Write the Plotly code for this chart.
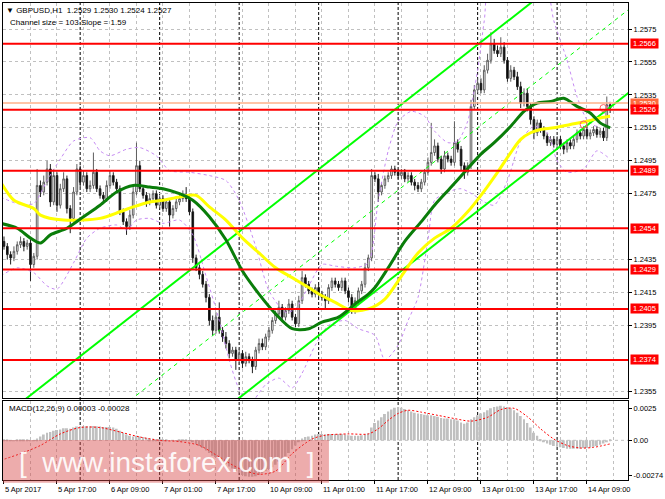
import plotly.graph_objects as go

# ---------------- data ----------------
first_open = 1.2446
closes = [
    1.2443, 1.2438, 1.2436, 1.2440, 1.2444, 1.2446, 1.2443, 1.2445, 1.2432, 1.2437,
    1.2480, 1.2476, 1.2482, 1.2490, 1.2470, 1.2486, 1.2468, 1.2478, 1.2484, 1.2466,
    1.2460, 1.2476, 1.2490, 1.2482, 1.2486, 1.2478, 1.2480, 1.2488, 1.2478, 1.2474,
    1.2472, 1.2480, 1.2486, 1.2482, 1.2478, 1.2464, 1.2458, 1.2455, 1.2462, 1.2476,
    1.2492, 1.2478, 1.2474, 1.2470, 1.2472, 1.2475, 1.2468, 1.2472, 1.2466, 1.2470,
    1.2462, 1.2466, 1.2470, 1.2472, 1.2474, 1.2472, 1.2464, 1.2436, 1.2430, 1.2426,
    1.2420, 1.2412, 1.2398, 1.2392, 1.2400, 1.2392, 1.2388, 1.2384, 1.2378, 1.2380,
    1.2374, 1.2378, 1.2372, 1.2376, 1.2374, 1.2370, 1.2380, 1.2384, 1.2382, 1.2388,
    1.2392, 1.2398, 1.2402, 1.2406, 1.2400, 1.2404, 1.2408, 1.2400, 1.2396, 1.2410,
    1.2424, 1.2420, 1.2416, 1.2414, 1.2418, 1.2414, 1.2412, 1.2410, 1.2418, 1.2422,
    1.2420, 1.2418, 1.2422, 1.2416, 1.2412, 1.2404, 1.2410, 1.2416, 1.2420, 1.2430,
    1.2436, 1.2486, 1.2484, 1.2476, 1.2480, 1.2484, 1.2486, 1.2490, 1.2488, 1.2486,
    1.2488, 1.2484, 1.2486, 1.2482, 1.2480, 1.2478, 1.2482, 1.2488, 1.2494, 1.2500,
    1.2504, 1.2496, 1.2490, 1.2498, 1.2496, 1.2494, 1.2506, 1.2502, 1.2492, 1.2488,
    1.2492, 1.2528, 1.2538, 1.2542, 1.2538, 1.2550, 1.2556, 1.2566, 1.2562, 1.2560,
    1.2564, 1.2556, 1.2545, 1.2550, 1.2546, 1.2540, 1.2530, 1.2536, 1.2528, 1.2520,
    1.2512, 1.2518, 1.2514, 1.2510, 1.2506, 1.2508, 1.2505, 1.2508, 1.2504, 1.2502,
    1.2506, 1.2504, 1.2508, 1.2512, 1.2510, 1.2514, 1.2510, 1.2512, 1.2514, 1.2511,
    1.2513, 1.2509, 1.2529, 1.2527,
]
up_wick_pips = [
    3, 2, 2, 3, 2, 3, 2, 2, 2, 2,
    10, 3, 4, 5, 3, 4, 2, 3, 4, 2,
    2, 3, 3, 2, 3, 2, 3, 12, 2, 2,
    2, 3, 3, 2, 2, 2, 2, 2, 3, 3,
    14, 3, 2, 2, 3, 2, 2, 2, 2, 2,
    2, 2, 3, 3, 3, 5, 2, 2, 2, 2,
    2, 2, 2, 3, 3, 9, 2, 3, 2, 2,
    2, 3, 2, 3, 2, 2, 2, 3, 3, 2,
    2, 2, 2, 4, 2, 2, 3, 2, 2, 3,
    4, 2, 2, 2, 2, 2, 2, 2, 2, 2,
    2, 2, 2, 2, 2, 2, 2, 2, 2, 3,
    2, 4, 2, 3, 2, 2, 2, 2, 2, 2,
    2, 2, 2, 2, 2, 2, 2, 2, 3, 18,
    4, 2, 2, 3, 2, 2, 13, 2, 2, 2,
    2, 4, 3, 3, 3, 3, 4, 7, 3, 3,
    6, 3, 2, 3, 2, 3, 3, 3, 3, 2,
    2, 2, 2, 2, 2, 2, 2, 2, 2, 2,
    2, 2, 2, 2, 2, 2, 2, 2, 2, 2,
    2, 2, 5, 1,
]
dn_wick_pips = [
    2, 3, 4, 2, 2, 2, 3, 2, 10, 2,
    2, 3, 2, 2, 3, 2, 4, 2, 2, 3,
    9, 2, 2, 3, 2, 2, 2, 2, 2, 2,
    3, 2, 2, 2, 2, 2, 2, 5, 2, 2,
    2, 2, 2, 3, 2, 2, 2, 2, 2, 2,
    7, 2, 2, 2, 2, 2, 2, 3, 2, 3,
    2, 3, 3, 3, 2, 2, 3, 3, 3, 2,
    6, 3, 3, 2, 2, 4, 2, 2, 2, 2,
    2, 2, 2, 2, 3, 2, 2, 2, 2, 2,
    2, 2, 2, 2, 2, 2, 2, 5, 2, 2,
    2, 2, 2, 2, 3, 2, 2, 2, 2, 2,
    2, 2, 2, 6, 2, 2, 2, 2, 2, 2,
    2, 2, 2, 2, 3, 2, 2, 2, 2, 2,
    2, 2, 3, 2, 2, 2, 2, 2, 3, 4,
    2, 2, 2, 2, 2, 2, 2, 2, 2, 2,
    2, 2, 2, 2, 2, 2, 3, 2, 3, 3,
    4, 2, 2, 2, 2, 2, 2, 2, 2, 3,
    2, 2, 2, 2, 2, 2, 2, 2, 2, 2,
    2, 2, 2, 3,
]

x_tick_bars = [0, 16, 32, 48, 64, 80, 96, 112, 128, 144, 160, 176]
x_tick_text = ["5 Apr 2017", "5 Apr 17:00", "6 Apr 09:00", "7 Apr 01:00", "7 Apr 17:00",
               "10 Apr 09:00", "11 Apr 01:00", "11 Apr 17:00", "12 Apr 09:00",
               "13 Apr 01:00", "13 Apr 17:00", "14 Apr 09:00"]
day_sep_bars = [23, 47, 71, 95, 119, 143, 167]

# price ticks that stay visible (1.2455 and 1.2375 are hidden under level labels)
price_ticks = [1.2355, 1.2395, 1.2415, 1.2435, 1.2475, 1.2495,
               1.2515, 1.2535, 1.2555, 1.2575]
levels = [1.2566, 1.2526, 1.2489, 1.2454, 1.2429, 1.2405, 1.2374]
ask_level = 1.2530

yellow_bars = [-1, 3, 9, 11, 18, 29, 35, 39, 44, 48, 53, 58, 62, 67, 72, 77, 82, 87, 92, 96,
               100, 105, 110, 115, 120, 125, 130, 135, 140, 144, 149, 153, 156, 159, 162,
               166, 171, 176, 180, 183]
yellow_vals = [1.2482, 1.2471, 1.2466, 1.2462, 1.2459, 1.2460, 1.2464, 1.2467, 1.2470, 1.2471,
               1.2473, 1.2474, 1.2467, 1.2459, 1.2448, 1.2439, 1.2430, 1.2424, 1.2418, 1.2413,
               1.2409, 1.2404, 1.2405, 1.2411, 1.2425, 1.2439, 1.2448, 1.2454, 1.2464, 1.2474,
               1.2488, 1.2500, 1.2508, 1.2512, 1.2514, 1.2515, 1.2517, 1.2519, 1.2521, 1.2522]

green_bars = [-1, 4, 8, 11, 14, 19, 24, 29, 34, 39, 44, 48, 53, 57, 62, 67, 72, 77, 82, 87,
              92, 96, 101, 106, 110, 112, 116, 121, 126, 130, 135, 139, 144, 148, 153, 157,
              161, 165, 169, 173, 177, 180, 183]
green_vals = [1.2457, 1.2454, 1.2448, 1.2445, 1.2450, 1.2454, 1.2461, 1.2468, 1.2476, 1.2480,
              1.2479, 1.2478, 1.2475, 1.2471, 1.2461, 1.2447, 1.2428, 1.2414, 1.2402, 1.2393,
              1.2393, 1.2397, 1.2400, 1.2408, 1.2414, 1.2418, 1.2430, 1.2446, 1.2458, 1.2468,
              1.2479, 1.2488, 1.2499, 1.2506, 1.2516, 1.2525, 1.2530, 1.2531, 1.2533, 1.2528,
              1.2524, 1.2518, 1.2515]

bb_up_bars = [-1, 4, 9, 13, 17, 21, 26, 29, 32, 37, 41, 46, 50, 56, 62, 67, 71, 76, 80, 85,
              88, 92, 96, 100, 106, 110, 113, 116, 119, 123, 127, 130, 134, 137, 140, 143,
              145, 147, 163, 166, 170, 173, 176, 179, 183]
bb_up_vals = [1.2473, 1.2469, 1.2469, 1.2483, 1.2496, 1.2507, 1.2509, 1.2501, 1.2498, 1.2502,
              1.2503, 1.2498, 1.2489, 1.2488, 1.2486, 1.2483, 1.2471, 1.2443, 1.2416, 1.2403,
              1.2405, 1.2419, 1.2432, 1.2431, 1.2430, 1.2433, 1.2471, 1.2501, 1.2519, 1.2525,
              1.2522, 1.2513, 1.2506, 1.2507, 1.2519, 1.2550, 1.2580, 1.2604, 1.2604, 1.2580,
              1.2556, 1.2534, 1.2520, 1.2516, 1.2531]
bb_lo_bars = [-1, 4, 9, 13, 16, 21, 25, 29, 34, 37, 40, 44, 48, 53, 57, 61, 65, 68, 71, 74,
              79, 83, 87, 90, 94, 98, 103, 107, 112, 115, 119, 122, 125, 128, 130, 134, 138,
              142, 145, 148, 152, 156, 160, 164, 167, 170, 175, 179, 183]
bb_lo_vals = [1.2425, 1.2430, 1.2427, 1.2419, 1.2417, 1.2433, 1.2448, 1.2454, 1.2456, 1.2453,
              1.2459, 1.2460, 1.2457, 1.2459, 1.2450, 1.2425, 1.2398, 1.2374, 1.2356, 1.2347,
              1.2359, 1.2363, 1.2357, 1.2366, 1.2383, 1.2395, 1.2398, 1.2393, 1.2389, 1.2374,
              1.2383, 1.2398, 1.2412, 1.2447, 1.2471, 1.2476, 1.2478, 1.2474, 1.2470, 1.2468,
              1.2483, 1.2507, 1.2516, 1.2512, 1.2495, 1.2488, 1.2490, 1.2501, 1.2496]

channel_bars = [0, 189]
channel_lower = [1.2239, 1.2537]
channel_width = 0.0101

cross_bars = [175, 181]
cross_prices = [1.2517, 1.2527]

macd_hist_e4 = [
    0.3, 0.2, 0.1, 0.1, 0.2, 0.3, 0.3, 0.3, 0.1, 0.1,
    1.5, 3.0, 4.5, 6.0, 6.5, 7.5, 8.0, 8.5, 9.5, 9.5,
    9.0, 10.0, 10.8, 11.0, 11.0, 11.0, 11.0, 11.2, 11.0, 10.8,
    10.5, 10.5, 10.5, 10.0, 9.0, 7.5, 6.0, 4.5, 3.5, 3.0,
    3.5, 3.0, 2.5, 2.0, 1.5, 1.2, 0.8, 0.6, 0.4, 0.3,
    0.0, 0.0, 0.1, 0.2, 0.2, 0.2, -0.2, -1.5, -3.0, -4.5,
    -6.0, -8.0, -10.0, -12.0, -13.0, -14.5, -16.5, -18.5, -20.5, -22.0,
    -24.0, -25.5, -27.0, -28.0, -28.5, -28.5, -28.0, -27.0, -25.5, -24.0,
    -22.5, -21.0, -19.0, -16.5, -14.5, -12.5, -10.0, -7.0, -4.0, -1.0,
    1.5, 2.5, 3.0, 3.5, 4.5, 5.0, 5.0, 4.5, 5.0, 5.0,
    5.0, 5.0, 5.0, 4.5, 4.0, 3.5, 3.5, 3.5, 4.0, 4.5,
    5.5, 10.0, 13.5, 15.5, 18.0, 20.5, 22.5, 24.0, 25.5, 26.0,
    25.5, 24.5, 23.5, 22.5, 21.5, 21.0, 20.5, 20.0, 19.5, 19.5,
    19.0, 18.5, 17.5, 17.0, 17.0, 16.5, 16.5, 15.5, 14.0, 13.0,
    14.0, 16.5, 18.0, 19.5, 21.0, 22.0, 23.5, 25.0, 26.0, 26.5,
    27.0, 26.5, 26.0, 25.0, 23.5, 21.5, 19.0, 16.5, 13.5, 10.0,
    6.0, 3.5, 1.0, -1.0, -2.5, -3.5, -4.5, -5.0, -5.5, -6.0,
    -6.5, -6.5, -6.5, -6.5, -6.5, -6.0, -6.0, -5.5, -5.0, -4.5,
    -3.5, -2.5, -1.0, 0.3,
]
signal_bars = [-1, 5, 11, 17, 23, 29, 35, 41, 47, 53, 59, 65, 71, 77, 82, 87, 93, 97, 104,
               110, 113, 116, 119, 122, 126, 131, 136, 141, 146, 150, 154, 158, 162, 166,
               170, 174, 178, 183]
signal_e4 = [-15.6, -10.4, -4.0, 5.0, 10.0, 10.0, 6.5, 2.6, 0.0, -1.0, -4.0, -13.0, -22.0,
             -26.5, -24.0, -10.4, 1.0, 4.0, 5.0, 5.0, 9.0, 15.6, 21.0, 23.5, 22.0, 19.5,
             17.0, 15.0, 18.0, 24.0, 25.0, 18.5, 9.0, 1.0, -4.0, -6.0, -5.5, -2.8]

# ---------------- derived ----------------
bars = list(range(len(closes)))
opens = [first_open] + closes[:-1]
highs = [round(max(o, c) + u * 1e-4, 5) for o, c, u in zip(opens, closes, up_wick_pips)]
lows = [round(min(o, c) - d * 1e-4, 5) for o, c, d in zip(opens, closes, dn_wick_pips)]
macd_hist = [v * 1e-4 for v in macd_hist_e4]
signal = [v * 1e-4 for v in signal_e4]
channel_upper = [v + channel_width for v in channel_lower]
channel_mid = [v + channel_width / 2 for v in channel_lower]

FONT = "Liberation Sans"
GRID = "#C0C0C0"
X_RANGE = [-0.3, 188.4]
Y_RANGE = [1.23508, 1.25908]
M_RANGE = [-0.0031, 0.00306]

fig = go.Figure()

fig.add_trace(go.Candlestick(
    x=bars, open=opens, high=highs, low=lows, close=closes,
    increasing=dict(line=dict(color="#5E5E5E", width=1), fillcolor="#FFFFFF"),
    decreasing=dict(line=dict(color="#1E1E1E", width=1), fillcolor="#000000"),
    whiskerwidth=0, hoverinfo="skip", showlegend=False, xaxis="x", yaxis="y"))

purple = "#C58AF2"
fig.add_trace(go.Scatter(x=bb_up_bars, y=bb_up_vals, mode="lines",
                         line=dict(color=purple, width=1, dash="3px,3px", shape="spline", smoothing=0.7),
                         hoverinfo="skip", showlegend=False, xaxis="x", yaxis="y"))
fig.add_trace(go.Scatter(x=bb_lo_bars, y=bb_lo_vals, mode="lines",
                         line=dict(color=purple, width=1, dash="3px,3px", shape="spline", smoothing=0.7),
                         hoverinfo="skip", showlegend=False, xaxis="x", yaxis="y"))

for vals, w, d in [(channel_upper, 2, "solid"), (channel_lower, 2, "solid"), (channel_mid, 1, "4px,4px")]:
    fig.add_trace(go.Scatter(x=channel_bars, y=vals, mode="lines",
                             line=dict(color="#00FF00", width=w, dash=d),
                             hoverinfo="skip", showlegend=False, xaxis="x", yaxis="y"))

fig.add_trace(go.Scatter(x=yellow_bars, y=yellow_vals, mode="lines",
                         line=dict(color="#FFFF00", width=3, shape="spline", smoothing=0.8),
                         hoverinfo="skip", showlegend=False, xaxis="x", yaxis="y"))
fig.add_trace(go.Scatter(x=green_bars, y=green_vals, mode="lines",
                         line=dict(color="#0A7D0A", width=3, shape="spline", smoothing=0.8),
                         hoverinfo="skip", showlegend=False, xaxis="x", yaxis="y"))
fig.add_trace(go.Scatter(x=cross_bars, y=cross_prices, mode="markers",
                         marker=dict(symbol="circle-open", size=7, color="#FF6060", line=dict(width=1)),
                         hoverinfo="skip", showlegend=False, xaxis="x", yaxis="y"))

# MACD pane
fig.add_trace(go.Bar(x=bars, y=macd_hist, width=0.6, marker=dict(color="#C0C0C0", line=dict(width=0)),
                     hoverinfo="skip", showlegend=False, xaxis="x2", yaxis="y2"))
fig.add_trace(go.Scatter(x=signal_bars, y=signal, mode="lines",
                         line=dict(color="#FF0000", width=1, dash="2px,2px", shape="spline", smoothing=0.8),
                         hoverinfo="skip", showlegend=False, xaxis="x2", yaxis="y2"))

shapes = []
for b in day_sep_bars:
    shapes.append(dict(type="line", xref="x", yref="paper", x0=b, x1=b, y0=0, y1=1,
                       line=dict(color="#000000", width=1, dash="3px,2px"), layer="below"))
shapes.append(dict(type="line", xref="paper", yref="y", x0=0, x1=1, y0=ask_level, y1=ask_level,
                   line=dict(color="#FFB08A", width=1.5), layer="above"))
for lv in levels:
    shapes.append(dict(type="line", xref="paper", yref="y", x0=0, x1=1, y0=lv, y1=lv,
                       line=dict(color="#FF0000", width=2), layer="above"))
shapes.append(dict(type="line", xref="paper", yref="y2", x0=0, x1=1, y0=0, y1=0,
                   line=dict(color=GRID, width=1, dash="3px,3px"), layer="below"))
# watermark
shapes.append(dict(type="rect", xref="paper", yref="paper", x0=0, x1=0.5215, y0=-0.006, y1=0.0837,
                   fillcolor="rgba(215,70,70,0.45)", line=dict(width=0), layer="above"))

annotations = []
annotations.append(dict(xref="paper", yref="paper", x=0, y=1, xanchor="left", yanchor="top",
                        xshift=1, yshift=-1, showarrow=False, align="left",
                        text="▼ GBPUSD,H1  1.2529 1.2530 1.2524 1.2527",
                        font=dict(family=FONT, size=8, color="#000000")))
annotations.append(dict(xref="paper", yref="paper", x=0, y=1, xanchor="left", yanchor="top",
                        xshift=5, yshift=-13, showarrow=False, align="left",
                        text="Channel size = 103 Slope = 1.59",
                        font=dict(family=FONT, size=8, color="#000000")))
annotations.append(dict(xref="paper", yref="paper", x=0, y=0.1653, xanchor="left", yanchor="top",
                        xshift=4, yshift=-1, showarrow=False, align="left",
                        text="MACD(12,26,9) 0.00003 -0.00028",
                        font=dict(family=FONT, size=8, color="#000000")))
annotations.append(dict(xref="paper", yref="y", x=1, y=ask_level, xanchor="left", yanchor="middle",
                        xshift=2, showarrow=False, text=f"{ask_level:.4f}",
                        bgcolor="#FF6A3D", borderpad=0, width=27,
                        font=dict(family=FONT, size=7.5, color="#FFFFFF")))
for lv in levels:
    annotations.append(dict(xref="paper", yref="y", x=1, y=lv, xanchor="left", yanchor="middle",
                            xshift=2, showarrow=False, text=f"{lv:.4f}",
                            bgcolor="#FF0000", borderpad=0, width=27,
                            font=dict(family=FONT, size=7.5, color="#FFFFFF")))
for b, t in zip(x_tick_bars, x_tick_text):
    annotations.append(dict(xref="x2", yref="paper", x=b, y=0, xanchor="left", yanchor="top",
                            xshift=-1, yshift=-3, showarrow=False, text=t,
                            font=dict(family=FONT, size=7.5, color="#000000")))
annotations.append(dict(xref="paper", yref="paper", x=0.262, y=0.037, xanchor="center", yanchor="middle",
                        showarrow=False, text="[  www.instaforex.com  ]",
                        font=dict(family=FONT, size=28, color="rgba(255,255,255,0.92)")))

axis_common = dict(showline=True, linecolor="#000000", linewidth=1, mirror=True,
                   gridcolor=GRID, griddash="3px,3px", zeroline=False,
                   tickfont=dict(family=FONT, size=7.5, color="#000000"))

fig.update_layout(
    width=665, height=499,
    margin=dict(l=2, r=34, t=2, b=19),
    paper_bgcolor="#FFFFFF", plot_bgcolor="#FFFFFF",
    showlegend=False,
    shapes=shapes, annotations=annotations,
    xaxis=dict(domain=[0, 1], anchor="y", range=X_RANGE, tickmode="linear", tick0=0, dtick=8,
               showticklabels=False, ticks="", showgrid=True, rangeslider=dict(visible=False),
               **axis_common),
    xaxis2=dict(domain=[0, 1], anchor="y2", matches="x", range=X_RANGE, tickmode="linear",
                tick0=0, dtick=16, showticklabels=False, ticks="outside", ticklen=3,
                tickcolor="#000000", showgrid=True,
                minor=dict(tickmode="linear", tick0=8, dtick=16, showgrid=True, gridcolor=GRID,
                           griddash="3px,3px", ticks=""),
                **axis_common),
    yaxis=dict(domain=[0.1715, 1], anchor="x", side="right", range=Y_RANGE,
               tickmode="array", tickvals=price_ticks, ticktext=[f"{v:.4f}" for v in price_ticks],
               ticks="outside", ticklen=3, tickcolor="#000000", showgrid=True, **axis_common),
    yaxis2=dict(domain=[0, 0.1653], anchor="x2", side="right", range=M_RANGE,
                tickmode="array", tickvals=[0.0025, 0.0, -0.00274],
                ticktext=["0.0025", "0.00", "-0.00274"],
                ticks="outside", ticklen=3, tickcolor="#000000", showgrid=False, **axis_common),
)

fig.write_html("out.html", config={"displayModeBar": False},
               post_script="document.body.style.margin='0';document.body.style.overflow='hidden';")
